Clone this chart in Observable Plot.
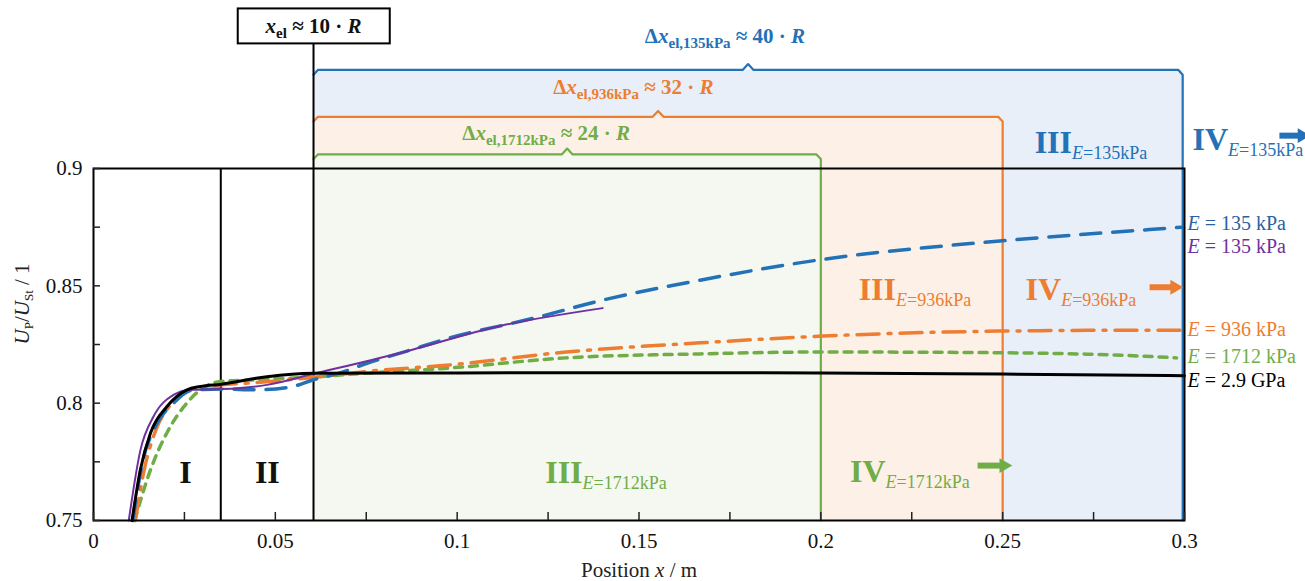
<!DOCTYPE html>
<html><head><meta charset="utf-8">
<script src="https://cdn.jsdelivr.net/npm/d3@7"></script>
<script src="https://cdn.jsdelivr.net/npm/@observablehq/plot@0.6"></script>
<style>body{margin:0;background:#fff;} svg{display:block}</style>
</head><body><div id="chart"></div>
<script>
// ---------- data ----------
const xTicks = [0, 0.05, 0.1, 0.15, 0.2, 0.25, 0.3];
const xTickLabels = ["0", "0.05", "0.1", "0.15", "0.2", "0.25", "0.3"];
const xMinorTicks = [0.025, 0.075, 0.125, 0.175, 0.225, 0.275];
const yTicks = [0.75, 0.8, 0.85, 0.9];
const yTickLabels = ["0.75", "0.8", "0.85", "0.9"];
const yMinorTicks = [0.775, 0.825, 0.875];

// E = 2.9 GPa (black)
const xBlack = [0.0106, 0.0129, 0.0157, 0.0202, 0.0257, 0.0294, 0.0352, 0.0477, 0.0605, 0.10, 0.15, 0.20, 0.25, 0.30];
const yBlack = [0.75, 0.7717, 0.7874, 0.7986, 0.8057, 0.8071, 0.8081, 0.8113, 0.8127, 0.8129, 0.8130, 0.8129, 0.8124, 0.8117];
// E = 135 kPa (purple, solid)
const xPurple = [0.0097, 0.0129, 0.0165, 0.0220, 0.0266, 0.0352, 0.0477, 0.0605, 0.0843, 0.1118, 0.140];
const yPurple = [0.75, 0.7800, 0.7943, 0.8035, 0.8057, 0.8060, 0.8078, 0.8125, 0.8214, 0.8329, 0.8405];
// E = 135 kPa (blue, dashed)
const xBlue = [0.0108, 0.0135, 0.0170, 0.0220, 0.0270, 0.0352, 0.0450, 0.0540, 0.0605, 0.0680, 0.0752, 0.0862, 0.098, 0.121, 0.140, 0.1668, 0.2006, 0.2492, 0.2904, 0.2992];
const yBlue = [0.75, 0.7750, 0.7900, 0.8000, 0.8055, 0.8060, 0.8057, 0.8068, 0.8100, 0.8130, 0.8170, 0.8222, 0.8278, 0.8362, 0.8439, 0.8524, 0.8613, 0.8691, 0.8740, 0.8750];
// E = 936 kPa (orange, dash-dot)
const xOrange = [0.0115, 0.0140, 0.0170, 0.0210, 0.0260, 0.0300, 0.0352, 0.0450, 0.0605, 0.0750, 0.098, 0.130, 0.1668, 0.2006, 0.249, 0.290, 0.2995];
const yOrange = [0.75, 0.7720, 0.7880, 0.7990, 0.8055, 0.8070, 0.8078, 0.8088, 0.8110, 0.8135, 0.8163, 0.8218, 0.8257, 0.8286, 0.8307, 0.8311, 0.8311];
// E = 1712 kPa (green, dotted)
const xGreen = [0.0113, 0.0157, 0.0202, 0.0248, 0.0294, 0.0349, 0.0450, 0.0605, 0.0750, 0.098, 0.130, 0.1668, 0.2006, 0.249, 0.2876, 0.2978];
const yGreen = [0.75, 0.7717, 0.7874, 0.7984, 0.8057, 0.8092, 0.8100, 0.8112, 0.8128, 0.8150, 0.8193, 0.8210, 0.8218, 0.8215, 0.8201, 0.8193];

// zones
const xZoneI = 0.035;            // end of zone I
const xEl = 0.0605;              // x_el ≈ 10·R
const zoneEnd = [0.2995, 0.25, 0.2];      // 135 kPa, 936 kPa, 1712 kPa
const zoneTop = [0.942, 0.922, 0.906];    // bracket heights
const bracketText = ["Δxel,135kPa ≈ 40 · R", "Δxel,936kPa ≈ 32 · R", "Δxel,1712kPa ≈ 24 · R"];
const bracketTextX = [0.1516, 0.1264, 0.1014];
const bracketTextY = [0.9535, 0.9319, 0.9123];

const zoneLabelText = [["III E=135kPa", "IV E=135kPa"], ["III E=936kPa", "IV E=936kPa"], ["III E=1712kPa", "IV E=1712kPa"]];
const zoneLabelX = [[0.2588, 0.3022], [0.2104, 0.2563], [0.1242, 0.2080]];
const zoneLabelY = [[0.9068, 0.9077], [0.8439, 0.8439], [0.7661, 0.7666]];
const arrowX1 = [0.3261, 0.2904, 0.2431];
const arrowX2 = [0.3345, 0.2995, 0.2525];
const arrowY = [0.9140, 0.8494, 0.7734];

const romanText = ["I", "II"];
const romanX = [0.0253, 0.0478];
const romanY = [0.7661, 0.7661];

const legendText = ["E = 135 kPa", "E = 135 kPa", "E = 936 kPa", "E = 1712 kPa", "E = 2.9 GPa"];
const legendX = 0.3008;
const legendY = [0.8737, 0.8639, 0.8286, 0.8171, 0.8069];

const boxText = "xel ≈ 10 · R";
const boxX = [0.0398, 0.0816];
const boxY = [0.9531, 0.9680];
const boxTextY = 0.9578;

// ---------- styles ----------
const C = {blue: "#2371b7", orange: "#ed7d31", green: "#70ad47", purple: "#7030a0", black: "#000",
  blueFill: "#e8eff8", orangeFill: "#fdf1e7", greenFill: "#f5f8f0", blueText: "#2a62a0"};
const zoneStroke = [C.blue, C.orange, C.green];
const zoneFill = [C.blueFill, C.orangeFill, C.greenFill];
const legendColor = [C.blueText, C.purple, C.orange, C.green, C.black];
const serif = "'Liberation Serif', 'Times New Roman', serif";

const pts = (xs, ys) => xs.map((x, i) => ({x, y: ys[i]}));

const marks = [];
// zone fills
zoneEnd.forEach((e, i) => {
  marks.push(Plot.rect([{x1: xEl, x2: e, y1: 0.75, y2: zoneTop[i]}], {x1: "x1", x2: "x2", y1: "y1", y2: "y2", fill: zoneFill[i]}));
});
// brackets
zoneEnd.forEach((e, i) => {
  const t = zoneTop[i], m = (xEl + e) / 2;
  const path = [
    {x: xEl, y: t - 0.002}, {x: xEl + 0.0012, y: t}, {x: m - 0.0015, y: t}, {x: m, y: t + 0.0025},
    {x: m + 0.0015, y: t}, {x: e - 0.0012, y: t}, {x: e, y: t - 0.002}, {x: e, y: 0.75}
  ];
  marks.push(Plot.line(path, {x: "x", y: "y", stroke: zoneStroke[i], strokeWidth: 2.2}));
});
// black zone separators
marks.push(Plot.ruleX([xZoneI], {y1: 0.75, y2: 0.9, stroke: "black", strokeWidth: 2}));
marks.push(Plot.ruleX([xEl], {y1: 0.75, y2: boxY[0], stroke: "black", strokeWidth: 2}));

// curves
marks.push(Plot.line(pts(xGreen, yGreen), {x: "x", y: "y", stroke: C.green, strokeWidth: 3.5, strokeDasharray: "8,7", curve: "monotone-x"}));
marks.push(Plot.line(pts(xOrange, yOrange), {x: "x", y: "y", stroke: C.orange, strokeWidth: 3.5, strokeDasharray: "22,9,3,9", curve: "monotone-x"}));
marks.push(Plot.line(pts(xBlue, yBlue), {x: "x", y: "y", stroke: C.blue, strokeWidth: 3.5, strokeDasharray: "20,12", curve: "monotone-x"}));
marks.push(Plot.line(pts(xPurple, yPurple), {x: "x", y: "y", stroke: C.purple, strokeWidth: 2, curve: "monotone-x"}));
marks.push(Plot.line(pts(xBlack, yBlack), {x: "x", y: "y", stroke: C.black, strokeWidth: 3, curve: "monotone-x"}));

// frame + axes
marks.push(Plot.frame({stroke: "black", strokeWidth: 2}));
marks.push(Plot.axisX(xTicks, {anchor: "bottom", tickSize: -8, tickPadding: 21, tickFormat: d => xTickLabels[xTicks.indexOf(d)], fontSize: 21, fontFamily: serif, fill: "#111", label: null, strokeWidth: 1.5}));
marks.push(Plot.axisX(xMinorTicks, {anchor: "bottom", tickSize: -8, tickFormat: () => "", label: null, strokeWidth: 1.5}));
marks.push(Plot.axisY(yTicks, {anchor: "left", tickSize: -7, tickPadding: 18, tickFormat: d => yTickLabels[yTicks.indexOf(d)], fontSize: 21, fontFamily: serif, fill: "#111", label: null, strokeWidth: 1.5}));
marks.push(Plot.axisY(yMinorTicks, {anchor: "left", tickSize: -7, tickFormat: () => "", label: null, strokeWidth: 1.5}));

// axis titles
marks.push(Plot.text(["UP/USt / 1"], {frameAnchor: "left", dx: -71, rotate: -90, fontSize: 21, fontFamily: serif, fill: "#222"}));
marks.push(Plot.text(["Position x / m"], {frameAnchor: "bottom", dy: 56, lineAnchor: "bottom", fontSize: 21, fontFamily: serif, fill: "#222"}));

// x_el box
marks.push(Plot.rect([{x1: boxX[0], x2: boxX[1], y1: boxY[0], y2: boxY[1]}], {x1: "x1", x2: "x2", y1: "y1", y2: "y2", fill: "white", stroke: "black", strokeWidth: 2}));
marks.push(Plot.text([boxText], {x: xEl, y: boxTextY, lineAnchor: "bottom", fontSize: 21, fontWeight: "bold", fontFamily: serif, fill: "#111"}));

// bracket labels
bracketText.forEach((t, i) => {
  marks.push(Plot.text([t], {x: bracketTextX[i], y: bracketTextY[i], textAnchor: "start", lineAnchor: "bottom", fontSize: 21, fontWeight: "bold", fontFamily: serif, fill: zoneStroke[i]}));
});
// zone labels
zoneLabelText.forEach((labels, i) => {
  labels.forEach((t, j) => {
    marks.push(Plot.text([t], {x: zoneLabelX[i][j], y: zoneLabelY[i][j], textAnchor: "start", lineAnchor: "bottom", fontSize: 32, fontFamily: serif, fill: zoneStroke[i]}));
  });
});
marks.push(Plot.text(romanText.map((t, i) => ({t, x: romanX[i], y: romanY[i]})), {x: "x", y: "y", text: "t", lineAnchor: "bottom", fontSize: 32, fontWeight: "bold", fontFamily: serif, fill: "#111"}));
// arrows
arrowX1.forEach((x1, i) => {
  const col = zoneStroke[i];
  marks.push(Plot.link([{x1, x2: arrowX2[i] - 0.003, y: arrowY[i]}], {x1: "x1", x2: "x2", y1: "y", y2: "y", stroke: col, strokeWidth: 6}));
  marks.push(Plot.dot([{x: arrowX2[i], y: arrowY[i]}], {x: "x", y: "y", symbol: "triangle", r: 5.5, rotate: 90, dx: -8, fill: col, stroke: "none"}));
});
// right legend labels
legendText.forEach((t, i) => {
  marks.push(Plot.text([t], {x: legendX, y: legendY[i], textAnchor: "start", lineAnchor: "bottom", fontSize: 20, fontFamily: serif, fill: legendColor[i]}));
});

const plot = Plot.plot({
  width: 1305, height: 581,
  marginLeft: 93, marginRight: 121, marginTop: 168, marginBottom: 61,
  x: {domain: [0, 0.3]},
  y: {domain: [0.75, 0.9]},
  style: {fontFamily: serif, fontSize: "21px", background: "white", color: "#222"},
  marks
});

// ---------- rich text (italics / subscripts) ----------
const rich = new Map();
rich.set("UP/USt / 1", [{t: "U", i: 1}, {t: "P", s: 13, dy: 4}, {t: "/", dy: -4}, {t: "U", i: 1}, {t: "St", s: 13, dy: 4}, {t: " / 1", dy: -4}]);
rich.set("Position x / m", [{t: "Position "}, {t: "x", i: 1}, {t: " / m"}]);
rich.set(boxText, [{t: "x", i: 1}, {t: "el", s: 15, dy: 5}, {t: " ≈ 10 · ", dy: -5}, {t: "R", i: 1}]);
bracketText.forEach(t => {
  const m = t.match(/^Δx(el,\d+kPa) ≈ (\d+) · R$/);
  rich.set(t, [{t: "Δ"}, {t: "x", i: 1}, {t: m[1], s: 15, dy: 5}, {t: ` ≈ ${m[2]} · `, dy: -5}, {t: "R", i: 1}]);
});
zoneLabelText.flat().forEach(t => {
  const [main, rest] = t.split(" ");
  rich.set(t, [{t: main, b: true}, {t: "E", i: 1, s: 18, dy: 6}, {t: rest.slice(1), s: 18}]);
});
legendText.forEach(t => rich.set(t, [{t: "E", i: 1}, {t: t.slice(1)}]));

const NS = "http://www.w3.org/2000/svg";
plot.querySelectorAll("text").forEach(el => {
  el.style.fontFamily = serif;
  const parts = rich.get(el.textContent);
  if (!parts) return;
  el.textContent = "";
  for (const p of parts) {
    const ts = document.createElementNS(NS, "tspan");
    ts.textContent = p.t;
    if (p.i) ts.setAttribute("font-style", "italic");
    if (p.b) ts.setAttribute("font-weight", "bold");
    if (p.s) ts.setAttribute("font-size", p.s);
    if (p.dy) ts.setAttribute("dy", p.dy);
    el.appendChild(ts);
  }
});

document.getElementById("chart").appendChild(plot);
</script>
</body></html>
